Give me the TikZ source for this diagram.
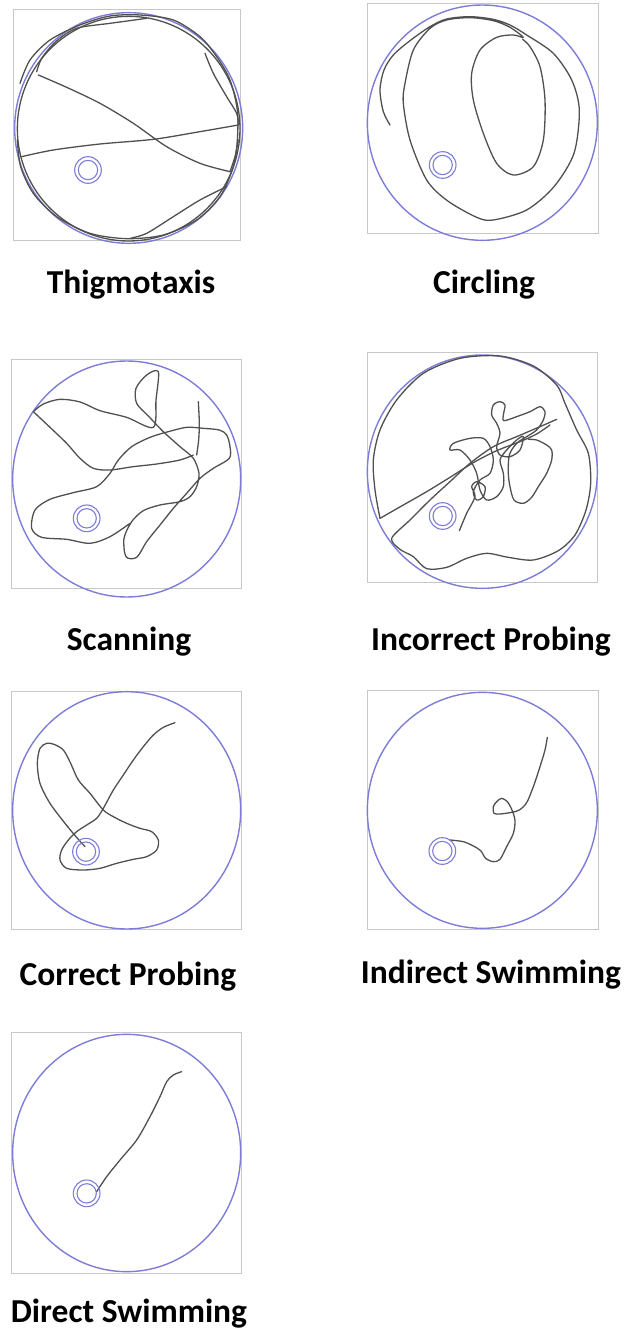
\documentclass[tikz,border=0pt]{standalone}
\usepackage{fontspec}
\setmainfont{Carlito}
\definecolor{boxgray}{RGB}{200,200,200}
\definecolor{poolblue}{RGB}{125,125,215}
\definecolor{trkgray}{RGB}{80,80,80}
\newcommand{\labfont}{\bfseries\fontsize{33.5}{33.5}\selectfont}
\begin{document}
\begin{tikzpicture}[x=1pt,y=-1pt,
  panelbox/.style={draw=boxgray,line width=0.9},
  pool/.style={draw=poolblue,line width=1.4},
  ringline/.style={draw=poolblue,line width=1.1},
  trk/.style={draw=trkgray,line width=1.3,line join=round,line cap=round},
  lab/.style={font=\labfont,anchor=base,inner sep=0pt}]
\useasboundingbox (0,0) rectangle (626,1332);

% ---------- Thigmotaxis ----------
\begin{scope}[shift={(0,0)},scale=1/3]
\draw[panelbox] (40,28) rectangle (722,722);
\draw[pool] (386,384) ellipse [x radius=342,y radius=346];
\draw[trk] (386,386) ellipse [x radius=334,y radius=337];
\draw[trk] plot[smooth] coordinates {(60,250)(90,180)(150,120)(240,75)(330,48)(420,45)(520,60)(600,110)(650,170)(690,240)(712,330)(712,420)(700,500)(660,590)(590,660)(490,705)(380,716)(270,700)(170,650)(100,580)(62,500)(52,420)};
\draw[trk] plot[smooth] coordinates {(65,470)(160,450)(300,432)(460,418)(600,395)(715,375)};
\draw[trk] plot[smooth] coordinates {(115,225)(200,262)(300,310)(400,370)(500,440)(600,490)(690,515)};
\draw[trk] plot[smooth] coordinates {(110,215)(125,175)(160,132)(200,100)(240,82)(330,70)(440,55)};
\draw[trk] plot[smooth] coordinates {(615,160)(640,220)(680,290)(710,340)(715,375)};
\draw[trk] plot[smooth] coordinates {(690,515)(705,470)(715,420)};
\draw[trk] plot[smooth] coordinates {(680,560)(600,600)(520,650)(440,700)(390,715)};
\draw[ringline] (264,510) circle (40) (264,510) circle (29);
\end{scope}
\node[lab] (l1) at (131,293) {Thigmotaxis};

% ---------- Circling ----------
\begin{scope}[shift={(360,0)},scale=1/3]
\draw[panelbox] (22,10) rectangle (714,700);
\draw[pool] (367,368) ellipse [x radius=345,y radius=353];
\draw[trk] plot[smooth] coordinates {(90,375)(70,335)(60,270)(72,210)(100,165)(150,122)(210,80)(260,57)(330,50)(400,58)(450,75)(500,105)(580,160)(635,240)(658,330)(642,460)(582,560)(500,630)(400,660)(350,652)(262,602)(200,540)(150,420)(130,310)(135,250)(160,150)(210,85)(260,60)(330,53)(400,62)(450,82)(490,112)(460,105)(410,112)(360,150)(335,220)(340,300)(370,400)(410,490)(460,525)(520,500)(550,420)(555,300)(540,200)(510,140)(488,118)};
\draw[ringline] (248,495) circle (40) (248,495) circle (29);
\end{scope}
\node[lab] (l2) at (484,293) {Circling};

% ---------- Scanning ----------
\begin{scope}[shift={(0,340)},scale=1/3]
\draw[panelbox] (35,57) rectangle (724,745);
\draw[pool] (380,417) ellipse [x radius=342,y radius=354];
\draw[trk] plot[smooth] coordinates {(100,215)(130,192)(180,178)(240,186)(300,212)(380,232)(460,262)(468,180)(475,95)(440,105)(408,145)(410,190)(445,228)(490,275)(540,320)(580,355)(597,400)(590,440)(570,470)(540,485)(480,495)(430,512)(395,545)(372,595)(378,650)(410,652)(440,605)(480,555)(520,505)(560,460)(600,415)(640,385)(688,355)(690,320)(680,285)(658,270)(610,265)(560,262)(505,275)(450,292)(395,320)(355,360)(330,400)(290,440)(220,458)(150,478)(105,510)(95,565)(125,592)(200,598)(270,610)(330,590)(390,550)};
\draw[trk] plot[smooth] coordinates {(100,215)(150,262)(200,310)(240,355)(280,385)(330,390)(400,380)(470,372)(540,360)(580,345)};
\draw[trk] plot[smooth] coordinates {(595,185)(598,250)(596,300)(590,345)};
\draw[ringline] (260,535) circle (40) (260,535) circle (29);
\end{scope}
\node[lab] (l3) at (129,650) {Scanning};

% ---------- Incorrect Probing ----------
\begin{scope}[shift={(360,340)},scale=1/3]
\draw[panelbox] (22,38) rectangle (712,727);
\draw[pool] (367,395) ellipse [x radius=345,y radius=350];
\draw[trk] plot[smooth] coordinates {(60,535)(45,450)(40,360)(60,270)(110,180)(190,100)(300,55)(420,48)(520,78)(590,135)(615,190)(650,270)(685,340)(692,430)(678,510)(645,585)(595,632)(520,660)(445,652)(380,640)(320,655)(260,682)(200,686)(160,650)(120,628)(95,595)(150,540)(210,480)(270,425)(330,370)(400,320)(470,290)(540,260)(590,238)};
\draw[trk] plot[smooth] coordinates {(60,535)(130,495)(200,455)(270,412)(340,368)(410,332)(480,305)(530,282)(570,255)};
\draw[trk] plot[smooth] coordinates {(298,572)(320,520)(345,470)(335,440)(350,425)(375,440)(370,470)(350,480)(340,455)(360,420)(390,400)(400,360)(390,320)(370,295)(330,295)(280,310)(270,330)(300,330)(330,360)(350,400)(360,450)(380,480)(410,470)(430,440)(430,400)(420,360)(440,330)(470,300)(490,290)(480,330)(450,350)(420,345)(410,320)(420,280)(410,250)(395,225)(400,195)(420,185)(435,195)(430,225)(432,242)(470,230)(510,215)(540,200)(555,215)(550,240)(530,270)(500,290)(470,310)(448,345)(445,400)(450,440)(462,480)(490,490)(515,472)(535,440)(560,400)(575,360)(575,330)(560,315)(530,300)(505,298)};
\draw[ringline] (248,528) circle (40) (248,528) circle (29);
\end{scope}
\node[lab] (l4) at (491,650) {Incorrect Probing};

% ---------- Correct Probing ----------
\begin{scope}[shift={(0,650)},scale=1/3]
\draw[panelbox] (35,123) rectangle (724,838);
\draw[pool] (380,481) ellipse [x radius=342,y radius=356];
\draw[trk] plot[smooth] coordinates {(525,218)(490,232)(460,255)(430,290)(400,330)(370,375)(340,420)(310,475)(290,505)(260,525)(230,545)(205,570)(185,600)(180,630)(200,655)(250,660)(300,655)(350,640)(400,628)(440,620)(470,600)(475,570)(455,545)(420,535)(380,520)(340,500)(310,480)(270,430)(235,390)(212,340)(190,300)(162,283)(140,280)(120,295)(112,340)(120,400)(150,460)(195,520)(228,560)(255,590)};
\draw[ringline] (258,605) circle (40) (258,605) circle (29);
\end{scope}
\node[lab] (l5) at (128,985) {Correct Probing};

% ---------- Indirect Swimming ----------
\begin{scope}[shift={(360,650)},scale=1/3]
\draw[panelbox] (22,122) rectangle (714,838);
\draw[pool] (367,481) ellipse [x radius=345,y radius=354];
\draw[trk] plot[smooth] coordinates {(562,262)(555,300)(540,350)(520,410)(500,458)(478,480)(455,487)(420,492)(402,490)(400,470)(410,455)(425,445)(442,455)(456,480)(465,512)(460,550)(440,590)(420,628)(400,635)(377,625)(362,602)(340,588)(310,575)(270,570)};
\draw[ringline] (247,603) circle (40) (247,603) circle (29);
\end{scope}
\node[lab] (l6) at (491,983) {Indirect Swimming};

% ---------- Direct Swimming ----------
\begin{scope}[shift={(0,1000)},scale=1/3]
\draw[panelbox] (35,98) rectangle (724,820);
\draw[pool] (380,459) ellipse [x radius=342,y radius=356];
\draw[trk] plot[smooth] coordinates {(545,215)(520,225)(500,245)(480,290)(450,350)(410,420)(360,480)(320,530)(290,575)};
\draw[ringline] (260,580) circle (40) (260,580) circle (29);
\end{scope}
\node[lab] (l7) at (129,1322) {Direct Swimming};
\end{tikzpicture}
\end{document}
